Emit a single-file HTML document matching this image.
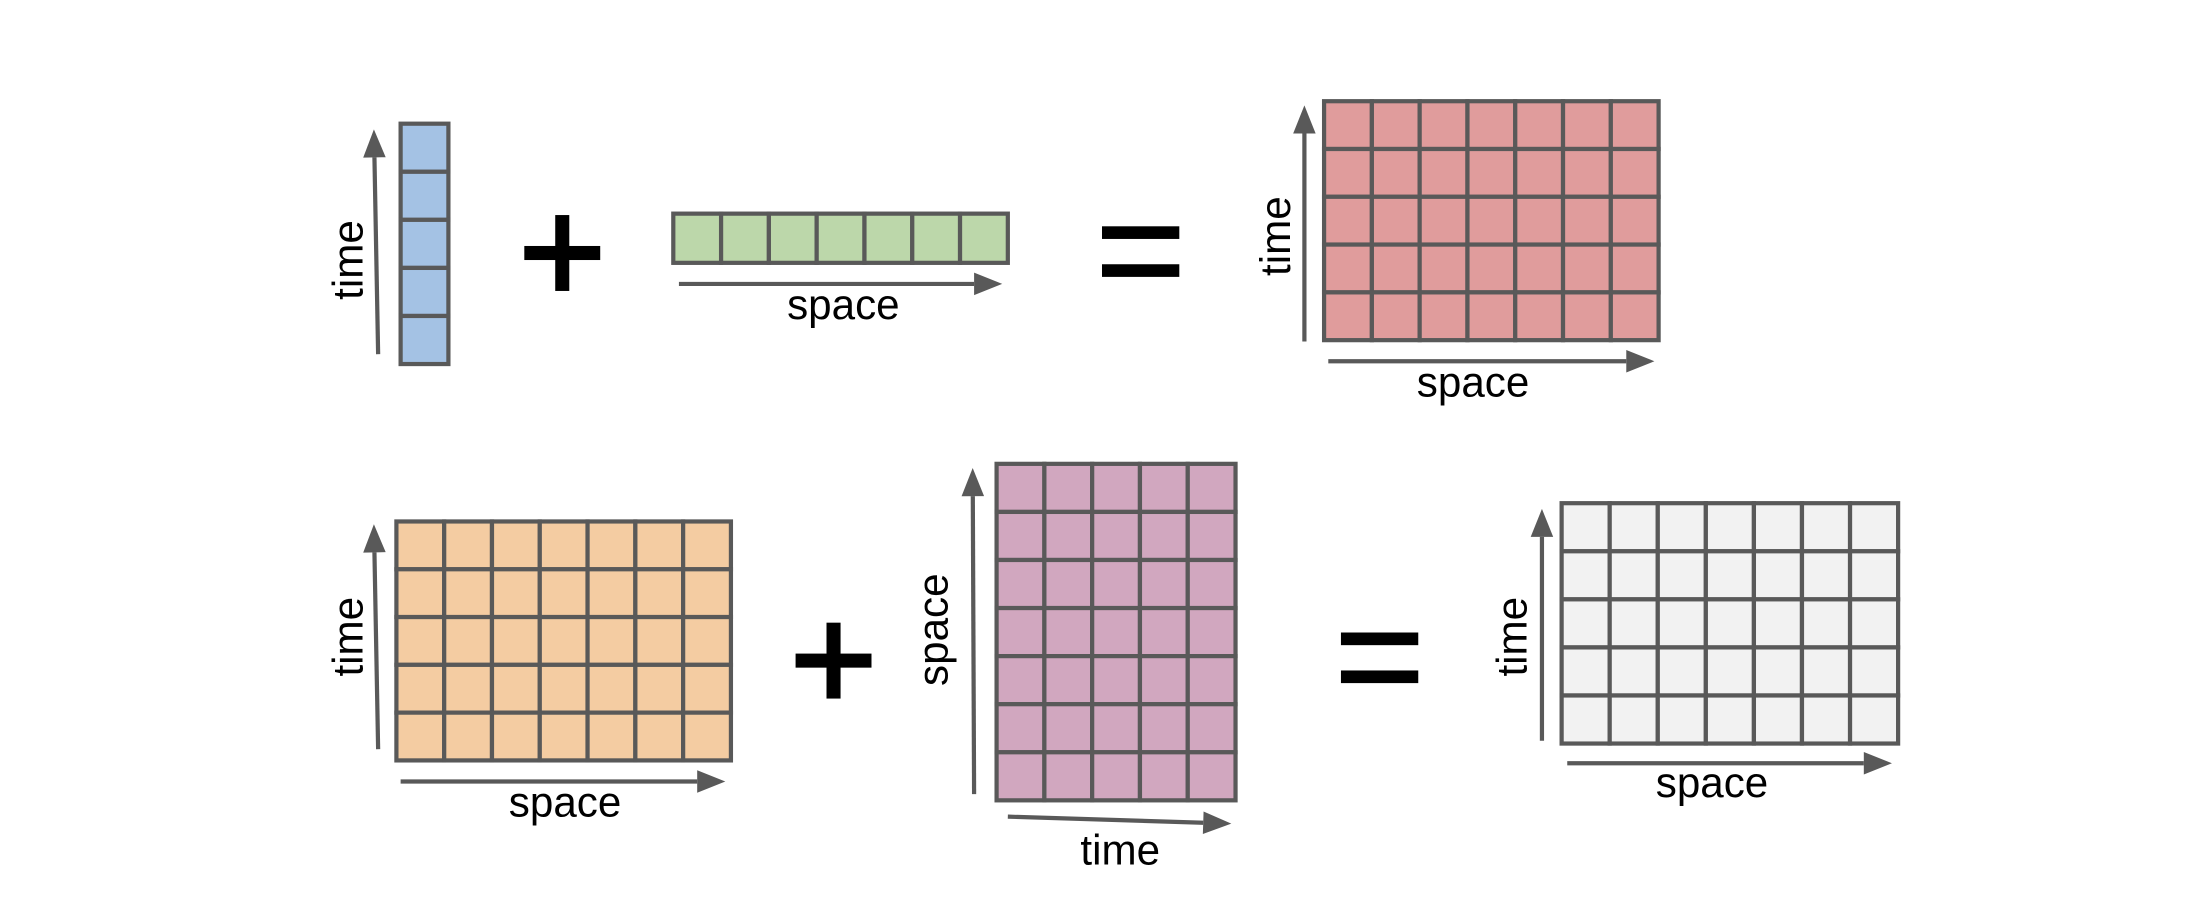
<!DOCTYPE html>
<html><head><meta charset="utf-8"><style>
html,body{margin:0;padding:0;background:#fff;width:2204px;height:908px;overflow:hidden}
svg{display:block}
text{font-family:"Liberation Sans",sans-serif;font-size:30px;fill:#000}
</style></head><body>
<svg id="s" width="2204" height="908" viewBox="0 0 1568 646" xmlns="http://www.w3.org/2000/svg">
</svg>
<script>
const gridNames=['blue-time-vector','green-space-vector','red-result-grid','orange-time-space-grid','purple-space-time-grid','gray-result-grid'];
const gridX=[285,479,942,282,709,1111];
const gridY=[88,152,72,371,330,358];
const gridCols=[1,7,7,7,5,7];
const gridRows=[5,1,5,5,7,5];
const gridColors=['#a4c2e4','#bcd7aa','#e09c9c','#f4cca2','#d1a7bf','#f2f2f2'];
const cellW=[34,34,34,34,34,34.2];
const cellH=[34.2,35,34,34,34.2,34.2];
const arrows=[[269,252,266,92,'time-arrow-1'],[483,202,713,202,'space-arrow-1'],[928,243,928,75,'time-arrow-2'],[945,257,1177,257,'space-arrow-2'],[269,533,266,373,'time-arrow-3'],[285,556,516,556,'space-arrow-3'],[693,565,692,333,'space-arrow-4'],[717,581,876,586,'time-arrow-4'],[1097,527,1097,362,'time-arrow-5'],[1115,543,1346,543,'space-arrow-5']];
const labels=[['time',250,185,true],['space',600,227,false],['time',910,168,true],['space',1048,282,false],['time',250,453,true],['space',402,581,false],['space',666,448,true],['time',797,615,false],['time',1078,453,true],['space',1218,567,false]];
const ops=[['plus',400,180],['equals',811,179],['plus',593,470],['equals',981,468]];
const svg=document.getElementById('s');const NS='http://www.w3.org/2000/svg';
function mk(t,a){const e=document.createElementNS(NS,t);for(const k in a)e.setAttribute(k,a[k]);svg.appendChild(e);return e;}
for(let g=0;g<gridNames.length;g++){
 for(let r=0;r<gridRows[g];r++)for(let c=0;c<gridCols[g];c++){
  const e=mk('rect',{x:gridX[g]+c*cellW[g],y:gridY[g]+r*cellH[g],width:cellW[g],height:cellH[g],fill:gridColors[g],stroke:'#595959','stroke-width':3});
  
  
 }
}
arrows.forEach(a=>{
 const [x1,y1,x2,y2,n]=a;const ang=Math.atan2(y2-y1,x2-x1);const L=20,W=8;
 const bx=x2-L*Math.cos(ang),by=y2-L*Math.sin(ang);
 const l=mk('line',{x1:x1,y1:y1,x2:bx,y2:by,stroke:'#595959','stroke-width':3});
 
 
 const px=-Math.sin(ang)*W,py=Math.cos(ang)*W;
 const h=mk('polygon',{points:`${x2},${y2} ${bx+px},${by+py} ${bx-px},${by-py}`,fill:'#595959'});
 
 
});
labels.forEach(l=>{
 const [t,x,y,rot]=l;
 const e=mk('text',{x:x,y:y,'text-anchor':'middle','dominant-baseline':rot?'middle':'auto'});
 if(rot)e.setAttribute('transform',`rotate(-90 ${x} ${y})`);
 e.textContent=t;
 
 
});
ops.forEach(o=>{
 const [k,x,y]=o;
 if(k==='plus'){
  const a=mk('rect',{x:x-27,y:y-5,width:54,height:10,fill:'#000'});
  
  
  const b=mk('rect',{x:x-5,y:y-27,width:10,height:54,fill:'#000'});
  
  
 }else{
  const a=mk('rect',{x:x-27,y:y-18,width:55,height:9,fill:'#000'});
  
  
  const b=mk('rect',{x:x-27,y:y+9,width:55,height:9,fill:'#000'});
  
  
 }
});
</script>
</body></html>
